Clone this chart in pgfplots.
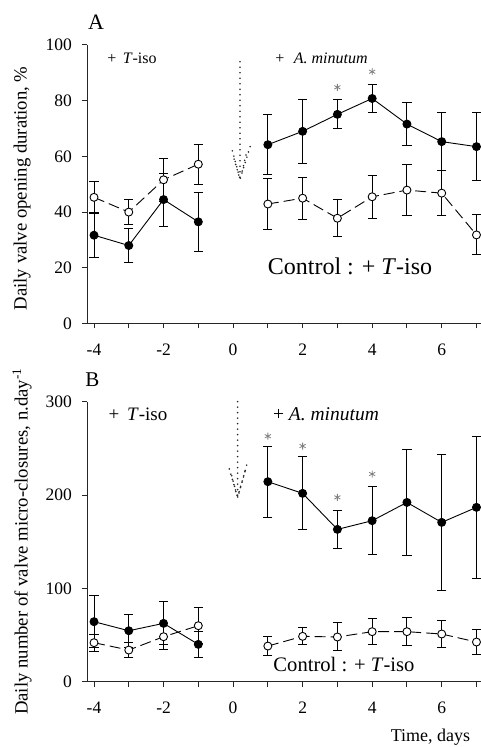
\documentclass[border=0pt]{standalone}
\usepackage{pgfplots}
\usepackage{pgfplotstable}
\pgfplotsset{compat=1.18}
\usepackage{fontspec}
\setmainfont{Liberation Serif}

% Panel A: daily valve opening duration (%), mean and error
\pgfplotstableread{
x y e
-4 31.7 8
-3 28.0 6
-2 44.5 9.5
-1 36.5 10.5
}\AminPre
\pgfplotstableread{
x y e
1 64.2 10.8
2 69.0 11.6
3 75.1 5.2
4 80.8 5.0
5 71.6 7.8
6 65.3 10.4
7 63.5 12.3
}\AminPost
\pgfplotstableread{
x y e
-4 45.3 5.7
-3 40.0 4.6
-2 51.6 7.8
-1 57.2 7.2
}\AconPre
\pgfplotstableread{
x y e
1 42.9 9.0
2 45.0 7.5
3 37.8 6.6
4 45.5 7.8
5 47.9 9.3
6 46.8 8.1
7 31.8 7.2
}\AconPost
\pgfplotstableread{
x y
3 84.8
4 90.4
}\Astars

% Panel B: daily number of valve micro-closures
\pgfplotstableread{
x y e
-4 64.3 28
-3 54.6 17.5
-2 62.5 23
-1 40.0 14.3
}\BminPre
\pgfplotstableread{
x y e
1 214.3 38
2 201.8 39
3 163.2 20.5
4 172.5 36.5
5 192.1 57
6 170.7 73
7 186.8 76
}\BminPost
\pgfplotstableread{
x y e
-4 41.8 9
-3 33.9 8
-2 48.2 14
-1 60.0 19.6
}\BconPre
\pgfplotstableread{
x y e
1 38.2 10
2 48.6 9
3 47.9 15
4 53.6 14
5 53.6 15
6 51.1 14
7 42.5 13.5
}\BconPost
\pgfplotstableread{
x y
1 263
2 252.5
3 197.5
4 222.5
}\Bstars

\tikzset{
  arrowdots/.style={black!85, line width=1.8pt, line cap=round,
    dash pattern=on 0pt off 5.5pt},
}

\pgfplotsset{
  panel/.style={
    scale only axis, width=399.86pt,
    xmin=-4.2, xmax=7.3,
    axis lines=left, axis line style={-, line width=1pt, black!85},
    xtick={-4,...,7}, xticklabels={-4,,-2,,0,,2,,4,,6,},
    tick align=outside, major tick length=5pt,
    tick style={line width=1pt, black!85},
    tick label style={font=\fontsize{17.5}{17.5}\selectfont, inner sep=0pt},
    xticklabel style={yshift=-15pt},
    yticklabel style={xshift=-10pt},
    /pgf/number format/assume math mode=true,
    label style={font=\fontsize{18.7}{18.7}\selectfont},
    clip=false,
  },
  treated/.style={black, line width=0.9pt, mark=*, mark size=4pt,
    mark options={solid, fill=black},
    error bars/.cd, y dir=both, y explicit,
    error bar style={solid, line width=1pt},
    error mark options={rotate=90, mark size=4.6pt, line width=1pt}},
  control/.style={black, line width=0.9pt, dash pattern=on 11pt off 5pt,
    mark=*, mark size=4pt,
    mark options={solid, fill=white, draw=black, line width=0.9pt},
    error bars/.cd, y dir=both, y explicit,
    error bar style={solid, line width=1pt},
    error mark options={rotate=90, mark size=4.6pt, line width=1pt}},
  stars/.style={only marks, mark=asterisk, mark size=3.5pt,
    mark options={gray, line width=0.8pt}},
}

\begin{document}
\begin{tikzpicture}
\useasboundingbox (0,0) rectangle (480pt,747pt);

% ---------- A ----------
\begin{axis}[panel, at={(87.05pt,423.5pt)}, anchor=south west,
  height=278.5pt, ymin=0, ymax=100, ytick={0,20,...,100},
  ylabel={Daily valve opening duration, \%},
  ylabel style={at={(axis description cs:-0.1625,0.485)}, anchor=center}]
\addplot[treated] table[x=x, y=y, y error=e] {\AminPre};
\addplot[treated] table[x=x, y=y, y error=e] {\AminPost};
\addplot[control] table[x=x, y=y, y error=e] {\AconPre};
\addplot[control] table[x=x, y=y, y error=e] {\AconPost};
\addplot[stars] table[x=x, y=y] {\Astars};
% dotted arrow marking the start of exposure
\draw[arrowdots] (axis cs:0.2,94) -- (axis cs:0.2,52);
\draw[arrowdots] (axis cs:-0.02,62) -- (axis cs:0.2,51.8);
\draw[arrowdots] (axis cs:0.49,63.5) -- (axis cs:0.2,51.8);
\draw[arrowdots] (axis cs:0.03,59) -- (axis cs:0.17,53);
\draw[arrowdots] (axis cs:0.37,60.5) -- (axis cs:0.23,53);
\end{axis}

% ---------- B ----------
\begin{axis}[panel, at={(87.05pt,65.3pt)}, anchor=south west,
  height=280pt, ymin=0, ymax=300, ytick={0,100,200,300},
  ylabel={Daily number of valve micro-closures, n.day\textsuperscript{-1}},
  ylabel style={at={(axis description cs:-0.1625,0.5)}, anchor=center}]
\addplot[treated] table[x=x, y=y, y error=e] {\BminPre};
\addplot[treated] table[x=x, y=y, y error=e] {\BminPost};
\addplot[control] table[x=x, y=y, y error=e] {\BconPre};
\addplot[control] table[x=x, y=y, y error=e] {\BconPost};
\addplot[stars] table[x=x, y=y] {\Bstars};
\draw[arrowdots] (axis cs:0.13,300) -- (axis cs:0.13,198);
\draw[arrowdots] (axis cs:-0.11,228) -- (axis cs:0.13,197.6);
\draw[arrowdots] (axis cs:0.39,232) -- (axis cs:0.13,197.6);
\draw[arrowdots] (axis cs:-0.04,220.7) -- (axis cs:0.1,201);
\draw[arrowdots] (axis cs:0.34,225) -- (axis cs:0.16,201);
\end{axis}

% panel letters and annotations
\node[font=\fontsize{22}{22}\selectfont] at (96pt,724.5pt) {A};
\node[font=\fontsize{21}{21}\selectfont] at (92.5pt,367pt) {B};
\node[font=\fontsize{16}{16}\selectfont] at (132pt,688.7pt) {+\hspace{0.4em}\textit{T}-iso};
\node[font=\fontsize{16}{16}\selectfont] at (321.5pt,689pt) {+\hspace{0.6em}\textit{A.\ minutum}};
\node[font=\fontsize{24}{24}\selectfont] at (350pt,480.3pt) {Control : + \textit{T}-iso};
\node[font=\fontsize{19}{19}\selectfont] at (138pt,333pt) {+\hspace{0.4em}\textit{T}-iso};
\node[font=\fontsize{19.5}{19.5}\selectfont] at (326pt,333pt) {+ \textit{A.\ minutum}};
\node[font=\fontsize{20.6}{20.6}\selectfont] at (344pt,82pt) {Control : + \textit{T}-iso};
\node[font=\fontsize{18}{18}\selectfont] at (430.5pt,10pt) {Time, days};
\end{tikzpicture}
\end{document}
